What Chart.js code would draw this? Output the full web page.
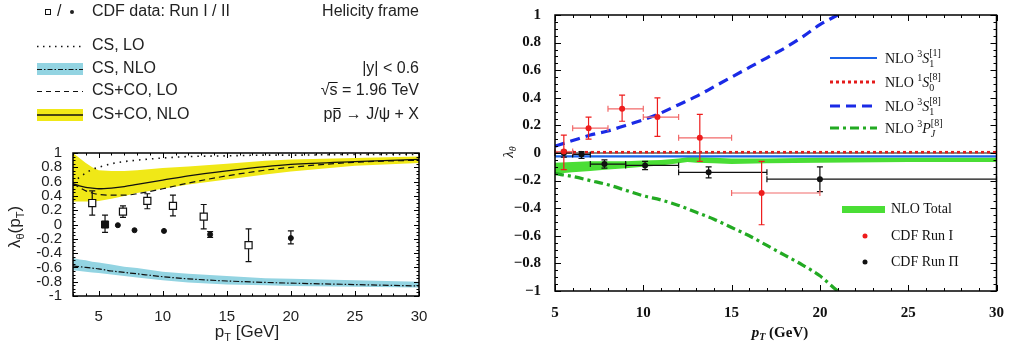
<!DOCTYPE html>
<html>
<head>
<meta charset="utf-8">
<script src="https://cdn.jsdelivr.net/npm/chart.js"></script>
<style>
  body { margin: 0; background: #fff; width: 1009px; height: 343px; overflow: hidden; position: relative; }
  canvas { position: absolute; top: 0; }
  #left { left: 0; }
  #right { left: 500px; }
</style>
</head>
<body>
<canvas id="left" width="460" height="343"></canvas>
<canvas id="right" width="509" height="343"></canvas>
<script>
// ---------- left panel (helicity frame, CS / CS+CO) ----------
const ptL = [3, 3.5, 4, 4.5, 5, 6, 7, 8, 10, 12, 15, 18, 20, 25, 30];
const csLO = [0.58, 0.66, 0.72, 0.77, 0.8, 0.85, 0.88, 0.9, 0.93, 0.95, 0.96, 0.97, 0.97, 0.98, 0.98];
const csNLO = [-0.58, -0.59, -0.6, -0.61, -0.62, -0.65, -0.67, -0.69, -0.73, -0.76, -0.79, -0.81, -0.82, -0.84, -0.86];
const csNLOUp = [-0.47, -0.49, -0.5, -0.52, -0.53, -0.56, -0.59, -0.61, -0.66, -0.69, -0.72, -0.75, -0.76, -0.78, -0.8];
const csNLOLo = [-0.64, -0.65, -0.66, -0.67, -0.68, -0.7, -0.72, -0.74, -0.78, -0.81, -0.84, -0.85, -0.86, -0.87, -0.88];
const cocoLO = [0.57, 0.52, 0.47, 0.44, 0.42, 0.41, 0.41, 0.43, 0.5, 0.58, 0.68, 0.76, 0.8, 0.87, 0.9];
const cocoNLO = [0.57, 0.54, 0.52, 0.51, 0.5, 0.51, 0.53, 0.56, 0.62, 0.68, 0.75, 0.81, 0.84, 0.88, 0.91];
const cocoNLOUp = [1.0, 0.93, 0.86, 0.8, 0.76, 0.75, 0.75, 0.76, 0.79, 0.81, 0.85, 0.89, 0.91, 0.93, 0.95];
const cocoNLOLo = [0.32, 0.32, 0.32, 0.32, 0.33, 0.36, 0.4, 0.44, 0.5, 0.56, 0.63, 0.7, 0.74, 0.82, 0.86];

const runI_L_x = [4.5, 5.5, 6.9, 8.8, 10.8, 13.2, 16.7];
const runI_L_y = [0.30, 0.01, 0.18, 0.33, 0.26, 0.11, -0.29];
const runI_L_hi = [0.47, 0.13, 0.26, 0.43, 0.41, 0.28, -0.06];
const runI_L_lo = [0.13, -0.11, 0.10, 0.22, 0.12, -0.06, -0.52];
const runII_L_x = [5.5, 6.5, 7.8, 10.1, 13.7, 20];
const runII_L_y = [0.0, -0.01, -0.08, -0.09, -0.14, -0.19];
const runII_L_hi = [0.0, -0.01, -0.08, -0.09, -0.10, -0.09];
const runII_L_lo = [0.0, -0.01, -0.08, -0.09, -0.18, -0.27];

const xTicksL = [5, 10, 15, 20, 25, 30];
const yTicksL = [-1, -0.8, -0.6, -0.4, -0.2, 0, 0.2, 0.4, 0.6, 0.8, 1];

// ---------- right panel (NLO channels) ----------
const ptR = [5, 6, 7, 8, 9, 10, 11, 12, 13, 14, 15, 16, 17, 18, 19, 20, 21, 22];
const s1_8 = [0.05, 0.09, 0.13, 0.16, 0.2, 0.24, 0.29, 0.35, 0.41, 0.48, 0.55, 0.62, 0.69, 0.76, 0.84, 0.93, 1.0, 1.08];
const pj_8 = [-0.15, -0.17, -0.2, -0.23, -0.27, -0.31, -0.34, -0.38, -0.43, -0.48, -0.54, -0.6, -0.67, -0.74, -0.81, -0.89, -1.0, -1.1];
const ptFlat = [5, 30];
const s1_1 = [-0.025, -0.025];
const s0_8 = [0.006, 0.006];
const zeroLine = [0, 0];
const ptTot = [5, 6, 7, 8, 9, 10, 11, 12, 12.5, 13, 14, 15, 17, 20, 25, 30];
const totUp = [-0.07, -0.065, -0.06, -0.06, -0.06, -0.055, -0.05, -0.04, -0.03, -0.03, -0.035, -0.04, -0.04, -0.035, -0.035, -0.035];
const totLo = [-0.15, -0.14, -0.13, -0.12, -0.11, -0.1, -0.09, -0.075, -0.065, -0.07, -0.075, -0.08, -0.075, -0.07, -0.065, -0.065];

const runI_x = [5.5, 6.9, 8.8, 10.8, 13.2, 16.7];
const runI_xlo = [5, 6, 8, 10, 12, 15];
const runI_xhi = [6, 8, 10, 12, 15, 20];
const runI_y = [0.01, 0.18, 0.32, 0.26, 0.11, -0.29];
const runI_hi = [0.13, 0.26, 0.42, 0.40, 0.28, -0.06];
const runI_lo = [-0.12, 0.10, 0.23, 0.12, -0.06, -0.52];
const runII_x = [5.5, 6.5, 7.8, 10.1, 13.7, 20];
const runII_xlo = [5, 6, 7, 9, 12, 17];
const runII_xhi = [6, 7, 9, 12, 17, 30];
const runII_y = [0.0, -0.01, -0.08, -0.09, -0.14, -0.19];
const runII_hi = [0.02, 0.01, -0.05, -0.06, -0.10, -0.10];
const runII_lo = [-0.03, -0.04, -0.11, -0.12, -0.18, -0.28];

const xTicksR = [5, 10, 15, 20, 25, 30];
const yTicksR = [-1, -0.8, -0.6, -0.4, -0.2, 0, 0.2, 0.4, 0.6, 0.8, 1];

// ---------- helpers ----------
const pts = (xs, ys) => xs.map((x, i) => ({ x, y: ys[i] }));

function rich(ctx, parts, x, y, align) {
  const w = parts.map(p => { ctx.font = p.f; return ctx.measureText(p.t).width; });
  let total = 0, hold = 0;
  parts.forEach((p, i) => { if (p.s) hold = Math.max(hold, w[i]); else { total += Math.max(hold, w[i]); hold = 0; } });
  let cx = align === 'center' ? x - total / 2 : align === 'right' ? x - total : x;
  hold = 0;
  ctx.textAlign = 'left';
  ctx.textBaseline = 'alphabetic';
  parts.forEach((p, i) => {
    ctx.font = p.f;
    ctx.fillText(p.t, cx, y + (p.dy || 0));
    if (p.s) hold = Math.max(hold, w[i]); else { cx += Math.max(hold, w[i]); hold = 0; }
  });
}

function frameTicks(chart, xStep, xMajor, yStep, yMajor, majLen, minLen, lw) {
  const { ctx, chartArea: a, scales: { x, y } } = chart;
  ctx.save();
  ctx.strokeStyle = '#000';
  ctx.lineWidth = 1;
  const isMaj = (v, m) => Math.abs(v / m - Math.round(v / m)) < 1e-6;
  const nx = Math.round((x.max - x.min) / xStep);
  for (let i = 0; i <= nx; i++) {
    const v = x.min + i * xStep;
    const px = Math.round(x.getPixelForValue(v)) + 0.5;
    const len = isMaj(v, xMajor) ? majLen : minLen;
    ctx.beginPath();
    ctx.moveTo(px, a.bottom); ctx.lineTo(px, a.bottom - len);
    ctx.moveTo(px, a.top); ctx.lineTo(px, a.top + len);
    ctx.stroke();
  }
  const ny = Math.round((y.max - y.min) / yStep);
  for (let i = 0; i <= ny; i++) {
    const v = y.min + i * yStep;
    const py = Math.round(y.getPixelForValue(v)) + 0.5;
    const len = isMaj(v, yMajor) ? majLen : minLen;
    ctx.beginPath();
    ctx.moveTo(a.left, py); ctx.lineTo(a.left + len, py);
    ctx.moveTo(a.right, py); ctx.lineTo(a.right - len, py);
    ctx.stroke();
  }
  ctx.lineWidth = lw;
  ctx.strokeRect(a.left, a.top, a.right - a.left, a.bottom - a.top);
  ctx.restore();
}

function vbar(ctx, x, y1, y2, cap) {
  ctx.beginPath();
  ctx.moveTo(x, y1); ctx.lineTo(x, y2);
  ctx.moveTo(x - cap, y1); ctx.lineTo(x + cap, y1);
  ctx.moveTo(x - cap, y2); ctx.lineTo(x + cap, y2);
  ctx.stroke();
}
function hbar(ctx, y, x1, x2, cap) {
  ctx.beginPath();
  ctx.moveTo(x1, y); ctx.lineTo(x2, y);
  ctx.moveTo(x1, y - cap); ctx.lineTo(x1, y + cap);
  ctx.moveTo(x2, y - cap); ctx.lineTo(x2, y + cap);
  ctx.stroke();
}

// ---------- left chart ----------
const SANS = '"Liberation Sans", Arial, sans-serif';
const leftDecor = {
  id: 'leftDecor',
  beforeDatasetDraw(chart, args) {
    if (args.index !== 9) return;
    const { ctx, scales: { x, y } } = chart;
    ctx.save();
    ctx.strokeStyle = '#111';
    ctx.lineWidth = 1.2;
    runI_L_x.forEach((v, i) => vbar(ctx, x.getPixelForValue(v), y.getPixelForValue(runI_L_hi[i]), y.getPixelForValue(runI_L_lo[i]), 3));
    runII_L_x.forEach((v, i) => {
      if (runII_L_hi[i] - runII_L_lo[i] > 0.02)
        vbar(ctx, x.getPixelForValue(v), y.getPixelForValue(runII_L_hi[i]), y.getPixelForValue(runII_L_lo[i]), 3);
    });
    ctx.restore();
  },
  afterDraw(chart) {
    const { ctx } = chart;
    frameTicks(chart, 1, 5, 0.05, 0.2, 5, 2.5, 1.5);
    ctx.save();
    ctx.fillStyle = '#222';
    ctx.strokeStyle = '#111';
    // axis titles
    const big = '17px ' + SANS, sm = '11px ' + SANS;
    rich(ctx, [{ t: 'p', f: big }, { t: 'T', f: sm, dy: 4 }, { t: ' [GeV]', f: big }], 247, 337, 'center');
    ctx.save();
    ctx.translate(20, 227);
    ctx.rotate(-Math.PI / 2);
    rich(ctx, [{ t: 'λ', f: big }, { t: 'θ', f: sm, dy: 4 }, { t: '(p', f: big }, { t: 'T', f: sm, dy: 4 }, { t: ')', f: big }], 0, 0, 'center');
    ctx.restore();
    // legend
    const lf = '16px ' + SANS;
    ctx.font = lf;
    ctx.textBaseline = 'middle';
    ctx.textAlign = 'left';
    ctx.lineWidth = 1;
    ctx.strokeRect(45.5, 9.5, 5, 5);
    ctx.fillText('/', 57, 12);
    ctx.beginPath(); ctx.arc(72, 12, 2, 0, Math.PI * 2); ctx.fill();
    ctx.fillText('CDF data: Run I / II', 92, 12);
    ctx.fillText('CS, LO', 92, 46);
    ctx.fillText('CS, NLO', 92, 69);
    ctx.fillText('CS+CO, LO', 92, 91);
    ctx.fillText('CS+CO, NLO', 92, 115);
    ctx.textAlign = 'right';
    ctx.fillText('Helicity frame', 419, 12);
    ctx.fillText('|y| < 0.6', 419, 69);
    ctx.fillText('√s = 1.96 TeV', 419, 91);
    ctx.fillText('pp → J/ψ + X', 419, 115);
    // overlines for sqrt(s) and p-bar
    const wTail = ctx.measureText(' = 1.96 TeV').width;
    const wAll = ctx.measureText('√s = 1.96 TeV').width;
    ctx.lineWidth = 1;
    ctx.beginPath();
    ctx.moveTo(419 - wAll + ctx.measureText('√').width - 1, 82.5);
    ctx.lineTo(419 - wTail, 82.5);
    ctx.stroke();
    const wTail2 = ctx.measureText(' → J/ψ + X').width;
    ctx.beginPath();
    ctx.moveTo(419 - wTail2 - ctx.measureText('p').width + 1, 108.5);
    ctx.lineTo(419 - wTail2 - 1, 108.5);
    ctx.stroke();
    // legend samples
    ctx.fillStyle = '#93d4e2';
    ctx.fillRect(37, 63, 46, 12);
    ctx.fillStyle = '#f0e817';
    ctx.fillRect(37, 109, 46, 12);
    const sample = (yy, dash, w) => {
      ctx.setLineDash(dash); ctx.lineWidth = w;
      ctx.beginPath(); ctx.moveTo(37, yy); ctx.lineTo(83, yy); ctx.stroke();
    };
    ctx.strokeStyle = '#111';
    sample(46.5, [1.5, 4.5], 1.5);
    sample(69.5, [5, 2, 1.5, 2], 1.2);
    sample(91.5, [5, 4], 1.2);
    sample(115, [], 1.4);
    ctx.restore();
  }
};

new Chart(document.getElementById('left'), {
  type: 'line',
  data: {
    datasets: [
      { data: pts(ptL, cocoNLOUp), borderWidth: 0, pointRadius: 0, fill: '+1', backgroundColor: '#f0e817', order: 9 },
      { data: pts(ptL, cocoNLOLo), borderWidth: 0, pointRadius: 0, fill: false, order: 9 },
      { data: pts(ptL, csNLOUp), borderWidth: 0, pointRadius: 0, fill: '+1', backgroundColor: '#93d4e2', order: 9 },
      { data: pts(ptL, csNLOLo), borderWidth: 0, pointRadius: 0, fill: false, order: 9 },
      { data: pts(ptL, csLO), borderColor: '#111', borderWidth: 1.6, borderDash: [1.5, 5], pointRadius: 0, cubicInterpolationMode: 'monotone', order: 3 },
      { data: pts(ptL, csNLO), borderColor: '#111', borderWidth: 1.2, borderDash: [6, 2, 1.5, 2], pointRadius: 0, cubicInterpolationMode: 'monotone', order: 3 },
      { data: pts(ptL, cocoLO), borderColor: '#111', borderWidth: 1.2, borderDash: [6, 4], pointRadius: 0, cubicInterpolationMode: 'monotone', order: 3 },
      { data: pts(ptL, cocoNLO), borderColor: '#111', borderWidth: 1.3, pointRadius: 0, cubicInterpolationMode: 'monotone', order: 3 },
      { data: pts(runII_L_x, runII_L_y), showLine: false, pointStyle: runII_L_x.map((_, i) => i === 0 ? 'rect' : 'circle'),
        pointRadius: runII_L_x.map((_, i) => i === 0 ? 5 : 2.5), pointBackgroundColor: '#111', pointBorderColor: '#111', pointBorderWidth: 1, order: 1 },
      { data: pts(runI_L_x.filter((_, i) => i !== 1), runI_L_y.filter((_, i) => i !== 1)), showLine: false, pointStyle: 'rect', pointRadius: 5,
        pointBackgroundColor: '#fff', pointBorderColor: '#111', pointBorderWidth: 1.2, order: 2 }
    ]
  },
  options: {
    responsive: false, animation: false, devicePixelRatio: 1,
    layout: { padding: { left: 0, right: 41, top: 153, bottom: 0 } },
    plugins: { legend: { display: false }, tooltip: { enabled: false } },
    scales: {
      x: {
        type: 'linear', min: 3, max: 30,
        afterBuildTicks: s => { s.ticks = xTicksL.map(v => ({ value: v })); },
        afterFit: s => { s.height = 47; },
        grid: { display: false }, border: { display: false },
        ticks: { color: '#222', font: { family: SANS, size: 15 }, padding: 4, maxRotation: 0, autoSkip: false }
      },
      y: {
        min: -1, max: 1,
        afterBuildTicks: s => { s.ticks = yTicksL.map(v => ({ value: v })); },
        afterFit: s => { s.width = 73; },
        grid: { display: false }, border: { display: false },
        ticks: { color: '#222', font: { family: SANS, size: 15 }, padding: 3, autoSkip: false,
          callback: v => String(Math.round(v * 10) / 10) }
      }
    }
  },
  plugins: [leftDecor]
});

// ---------- right chart ----------
const SERIF = '"Liberation Serif", "Times New Roman", serif';
const rightDecor = {
  id: 'rightDecor',
  afterDatasetsDraw(chart) {
    const { ctx, scales: { x, y } } = chart;
    ctx.save();
    ctx.lineWidth = 1.2;
    // Run II (black)
    ctx.strokeStyle = '#111';
    runII_x.forEach((v, i) => {
      const py = y.getPixelForValue(runII_y[i]);
      hbar(ctx, py, x.getPixelForValue(runII_xlo[i]), x.getPixelForValue(runII_xhi[i]), 3);
      vbar(ctx, x.getPixelForValue(v), y.getPixelForValue(runII_hi[i]), y.getPixelForValue(runII_lo[i]), 3);
    });
    // Run I (red)
    runI_x.forEach((v, i) => {
      const py = y.getPixelForValue(runI_y[i]);
      ctx.strokeStyle = '#f26a6a';
      hbar(ctx, py, x.getPixelForValue(runI_xlo[i]), x.getPixelForValue(runI_xhi[i]), 3);
      ctx.strokeStyle = '#ee1c1c';
      vbar(ctx, x.getPixelForValue(v), y.getPixelForValue(runI_hi[i]), y.getPixelForValue(runI_lo[i]), 3);
    });
    ctx.fillStyle = '#111';
    runII_x.forEach((v, i) => { ctx.beginPath(); ctx.arc(x.getPixelForValue(v), y.getPixelForValue(runII_y[i]), 3, 0, Math.PI * 2); ctx.fill(); });
    ctx.fillStyle = '#ee1c1c';
    runI_x.forEach((v, i) => { ctx.beginPath(); ctx.arc(x.getPixelForValue(v), y.getPixelForValue(runI_y[i]), 3, 0, Math.PI * 2); ctx.fill(); });
    ctx.restore();
  },
  afterDraw(chart) {
    const { ctx } = chart;
    frameTicks(chart, 1, 5, 0.05, 0.2, 6, 3, 1.5);
    ctx.save();
    ctx.fillStyle = '#111';
    // axis titles
    rich(ctx, [{ t: 'p', f: 'bold italic 15px ' + SERIF }, { t: 'T', f: 'bold italic 10px ' + SERIF, dy: 3 }, { t: ' (GeV)', f: 'bold 15px ' + SERIF }], 280, 337, 'center');
    ctx.save();
    ctx.translate(13, 152);
    ctx.rotate(-Math.PI / 2);
    rich(ctx, [{ t: 'λ', f: 'italic 15px ' + SERIF }, { t: 'θ', f: 'italic 10px ' + SERIF, dy: 3 }], 0, 0, 'center');
    ctx.restore();
    // legend
    const F = '14px ' + SERIF, f = '10px ' + SERIF, I = 'italic 14px ' + SERIF;
    const entries = [
      { y: 58, col: '#1a62e8', dash: [], w: 2.2, sup: '3', L: 'S', up: '[1]', dn: '1' },
      { y: 82, col: '#e41a1a', dash: [3, 3], w: 3, sup: '1', L: 'S', up: '[8]', dn: '0' },
      { y: 106, col: '#1a2ae6', dash: [10, 6], w: 3.2, sup: '3', L: 'S', up: '[8]', dn: '1' },
      { y: 128, col: '#22aa22', dash: [9, 4, 3, 4], w: 3.2, sup: '3', L: 'P', up: '[8]', dn: 'J' }
    ];
    entries.forEach(e => {
      ctx.strokeStyle = e.col; ctx.lineWidth = e.w; ctx.setLineDash(e.dash);
      ctx.beginPath(); ctx.moveTo(330, e.y); ctx.lineTo(377, e.y); ctx.stroke();
      ctx.fillStyle = '#111';
      rich(ctx, [{ t: 'NLO ', f: F }, { t: e.sup, f: f, dy: -6 }, { t: e.L, f: I }, { t: e.up, f: f, dy: -7, s: true },
        { t: e.dn, f: e.dn === 'J' ? 'italic 10px ' + SERIF : f, dy: 4 }], 385, e.y + 5);
    });
    ctx.setLineDash([]);
    ctx.fillStyle = '#4ade35';
    ctx.fillRect(342, 206, 43, 7);
    ctx.fillStyle = '#111';
    ctx.font = F; ctx.textBaseline = 'middle'; ctx.textAlign = 'left';
    ctx.fillText('NLO Total', 391, 209);
    ctx.fillText('CDF Run I', 391, 236);
    ctx.fillText('CDF Run Π', 391, 262);
    ctx.fillStyle = '#ee1c1c';
    ctx.beginPath(); ctx.arc(365, 236, 2.5, 0, Math.PI * 2); ctx.fill();
    ctx.fillStyle = '#111';
    ctx.beginPath(); ctx.arc(365, 262, 2.5, 0, Math.PI * 2); ctx.fill();
    ctx.restore();
  }
};

new Chart(document.getElementById('right'), {
  type: 'line',
  data: {
    datasets: [
      { data: pts(ptTot, totUp), borderWidth: 0, pointRadius: 0, fill: '+1', backgroundColor: '#4ade35', order: 9 },
      { data: pts(ptTot, totLo), borderWidth: 0, pointRadius: 0, fill: false, order: 9 },
      { data: pts(ptFlat, zeroLine), borderColor: '#111', borderWidth: 1, pointRadius: 0, order: 4 },
      { data: pts(ptFlat, s1_1), borderColor: '#1a62e8', borderWidth: 2.2, pointRadius: 0, order: 3 },
      { data: pts(ptFlat, s0_8), borderColor: '#e41a1a', borderWidth: 2.5, borderDash: [3, 3], pointRadius: 0, order: 3 },
      { data: pts(ptR, s1_8), borderColor: '#1a2ae6', borderWidth: 3.2, borderDash: [10, 6], pointRadius: 0, cubicInterpolationMode: 'monotone', order: 3 },
      { data: pts(ptR, pj_8), borderColor: '#22aa22', borderWidth: 3.2, borderDash: [9, 4, 3, 4], pointRadius: 0, cubicInterpolationMode: 'monotone', order: 3 }
    ]
  },
  options: {
    responsive: false, animation: false, devicePixelRatio: 1,
    layout: { padding: { left: 0, right: 6, top: 14, bottom: 0 } },
    plugins: { legend: { display: false }, tooltip: { enabled: false } },
    scales: {
      x: {
        type: 'linear', min: 5, max: 30,
        afterBuildTicks: s => { s.ticks = xTicksR.map(v => ({ value: v })); },
        afterFit: s => { s.height = 52; },
        grid: { display: false }, border: { display: false },
        ticks: { color: '#111', font: { family: SERIF, size: 15, weight: 'bold' }, padding: 5, maxRotation: 0, autoSkip: false }
      },
      y: {
        min: -1, max: 1,
        afterBuildTicks: s => { s.ticks = yTicksR.map(v => ({ value: v })); },
        afterFit: s => { s.width = 55; },
        grid: { display: false }, border: { display: false },
        ticks: { color: '#111', font: { family: SERIF, size: 15, weight: 'bold' }, padding: 6, autoSkip: false,
          callback: v => String(Math.round(v * 10) / 10).replace('-', '\u2212') }
      }
    }
  },
  plugins: [rightDecor]
});
</script>
</body>
</html>
